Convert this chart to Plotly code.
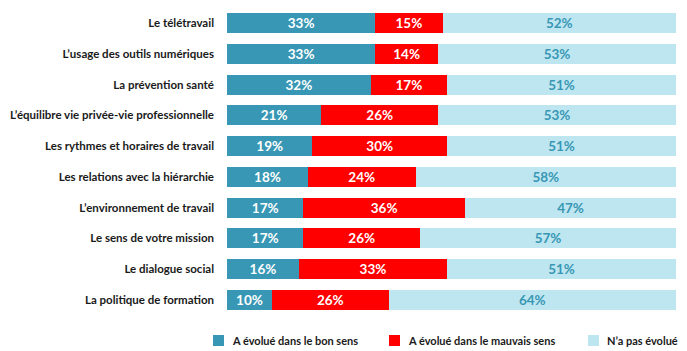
import plotly.graph_objects as go

categories = [
    "Le télétravail",
    "L’usage des outils numériques",
    "La prévention santé",
    "L’équilibre vie privée-vie professionnelle",
    "Les rythmes et horaires de travail",
    "Les relations avec la hiérarchie",
    "L’environnement de travail",
    "Le sens de votre mission",
    "Le dialogue social",
    "La politique de formation",
]
bon_sens = [33, 33, 32, 21, 19, 18, 17, 17, 16, 10]
mauvais_sens = [15, 14, 17, 26, 30, 24, 36, 26, 33, 26]
pas_evolue = [52, 53, 51, 53, 51, 58, 47, 57, 51, 64]

series_names = ["A évolué dans le bon sens", "A évolué dans le mauvais sens", "N’a pas évolué"]
colors = ["#3897b4", "#ff0000", "#bee6f1"]
text_colors = ["white", "white", "#3897b4"]

FONT = "Lato"
W, H = 687, 351
ML, MR, MT, MB = 227, 11, 8, 36
PW = W - ML - MR
PH = H - MT - MB

fig = go.Figure()
for name, vals, col, tcol in zip(series_names, [bon_sens, mauvais_sens, pas_evolue], colors, text_colors):
    fig.add_trace(go.Bar(
        y=categories, x=vals, name=name, orientation="h",
        marker=dict(color=col, line=dict(width=0)),
        text=[f"{v}%" for v in vals], textposition="inside", insidetextanchor="middle",
        constraintext="none",
        textfont=dict(color=tcol, size=13.5, family=FONT, weight="bold"),
        hoverinfo="skip", showlegend=False,
    ))

# manual legend (squares + labels), positions in pixels converted to paper coords
def px_x(px):
    return (px - ML) / PW

def px_y(py):
    return (H - MB - py) / PH

legend_sq_left = [213, 389, 588]
for name, col, left in zip(series_names, colors, legend_sq_left):
    fig.add_shape(type="rect", xref="paper", yref="paper",
                  x0=px_x(left), x1=px_x(left + 11), y0=px_y(346), y1=px_y(335),
                  fillcolor=col, line=dict(width=0))
    fig.add_annotation(xref="paper", yref="paper", x=px_x(left + 17), y=px_y(340.5),
                       text=name, showarrow=False, xanchor="left", yanchor="middle",
                       font=dict(family=FONT, size=11, color="#1a1a1a", weight="bold"))

fig.update_layout(
    barmode="stack",
    bargap=0.35,
    width=W, height=H,
    margin=dict(l=ML, r=MR, t=MT, b=MB, autoexpand=False),
    paper_bgcolor="white", plot_bgcolor="white",
    xaxis=dict(range=[0, 100], visible=False, fixedrange=True),
    yaxis=dict(autorange="reversed", showgrid=False, zeroline=False, showline=False,
               ticks="", ticklabelstandoff=12, automargin=False,
               tickfont=dict(family=FONT, size=11.5, color="#1a1a1a", weight="bold")),
    showlegend=False,
)

fig.write_html("out.html")
